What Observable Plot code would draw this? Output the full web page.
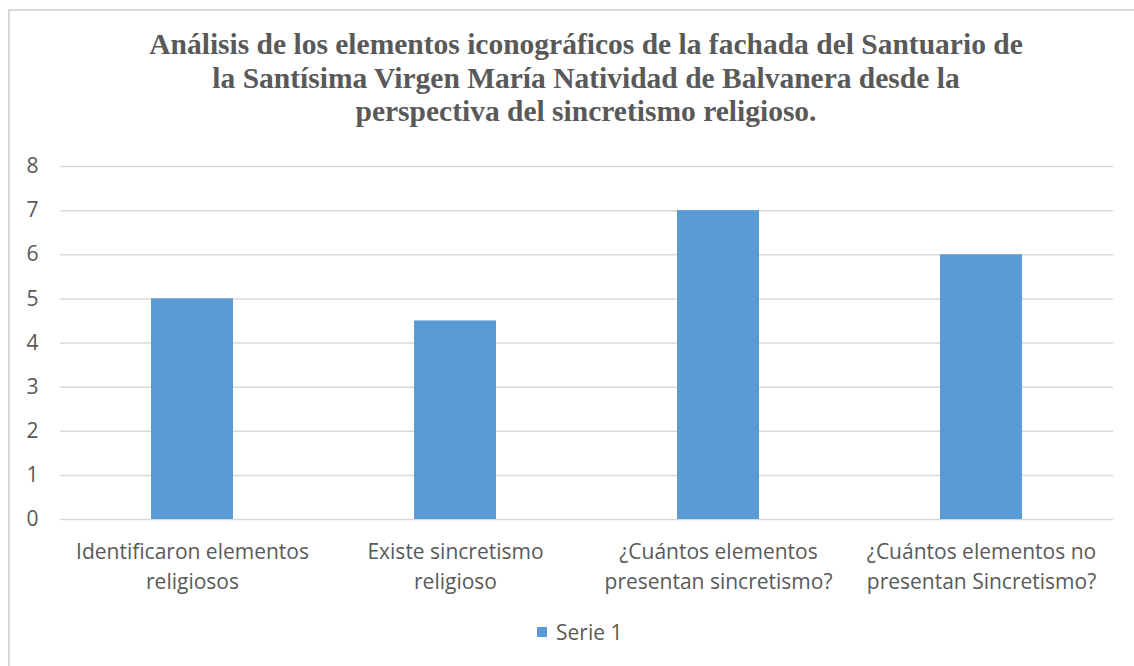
<!DOCTYPE html>
<html>
<head>
<meta charset="utf-8">
<script src="https://cdn.jsdelivr.net/npm/d3@7"></script>
<script src="https://cdn.jsdelivr.net/npm/@observablehq/plot@0.6"></script>
<style>
html, body { margin: 0; padding: 0; background: #fff; overflow: hidden; width: 1134px; height: 666px; }
#frame { position: absolute; left: 8px; top: 9px; width: 1160px; height: 700px; border: 2px solid #d9d9d9; box-sizing: border-box; }
#title { position: absolute; left: 0; top: 28px; width: 1172px; text-align: center; font-family: "Liberation Serif", "Times New Roman", serif; font-weight: bold; font-size: 29.5px; line-height: 33.5px; color: #595959; }
#chart { position: absolute; left: 0; top: 0; }
#legend { position: absolute; left: 537px; top: 618px; font-family: "Open Sans", sans-serif; font-size: 21px; color: #595959; display: flex; align-items: center; }
#legend .sw { width: 10px; height: 10px; background: #5b9bd5; margin-right: 9px; }
</style>
</head>
<body>
<div id="frame"></div>
<div id="title">Análisis de los elementos iconográficos de la fachada del Santuario de<br>la Santísima Virgen María Natividad de Balvanera desde la<br>perspectiva del sincretismo religioso.</div>
<div id="chart"></div>
<div id="legend"><span class="sw"></span><span id="legendLabel"></span></div>
<script>
const categories = [
  "Identificaron elementos\nreligiosos",
  "Existe sincretismo\nreligioso",
  "¿Cuántos elementos\npresentan sincretismo?",
  "¿Cuántos elementos no\npresentan Sincretismo?"
];
const values = [5, 4.5, 7, 6];
const yTicks = [0, 1, 2, 3, 4, 5, 6, 7, 8];
const seriesName = "Serie 1";

const data = categories.map((c, i) => ({category: c, value: values[i]}));

const chart = Plot.plot({
  width: 1134,
  height: 620,
  marginTop: 166,
  marginBottom: 101,
  marginLeft: 60,
  marginRight: 21,
  style: {fontFamily: "'Open Sans', sans-serif", fontSize: "21px", color: "#595959", background: "transparent", overflow: "visible"},
  x: {domain: categories, paddingInner: 0.69, paddingOuter: 0.345, label: null},
  y: {domain: [0, 8], label: null},
  marks: [
    Plot.gridY(yTicks, {stroke: "#d9d9d9", strokeOpacity: 1, strokeWidth: 1.5}),
    Plot.barY(data, {x: "category", y: "value", fill: "#5b9bd5"}),
    Plot.axisY(yTicks, {tickSize: 0, tickPadding: 22, fill: "#595959", fontSize: 21, tickFormat: d => String(d)}),
    Plot.axisX({tickSize: 0, tickPadding: 19, fill: "#595959", fontSize: 21, lineHeight: 1.4, lineWidth: 40})
  ]
});
document.getElementById("chart").appendChild(chart);
document.getElementById("legendLabel").textContent = seriesName;
</script>
</body>
</html>
